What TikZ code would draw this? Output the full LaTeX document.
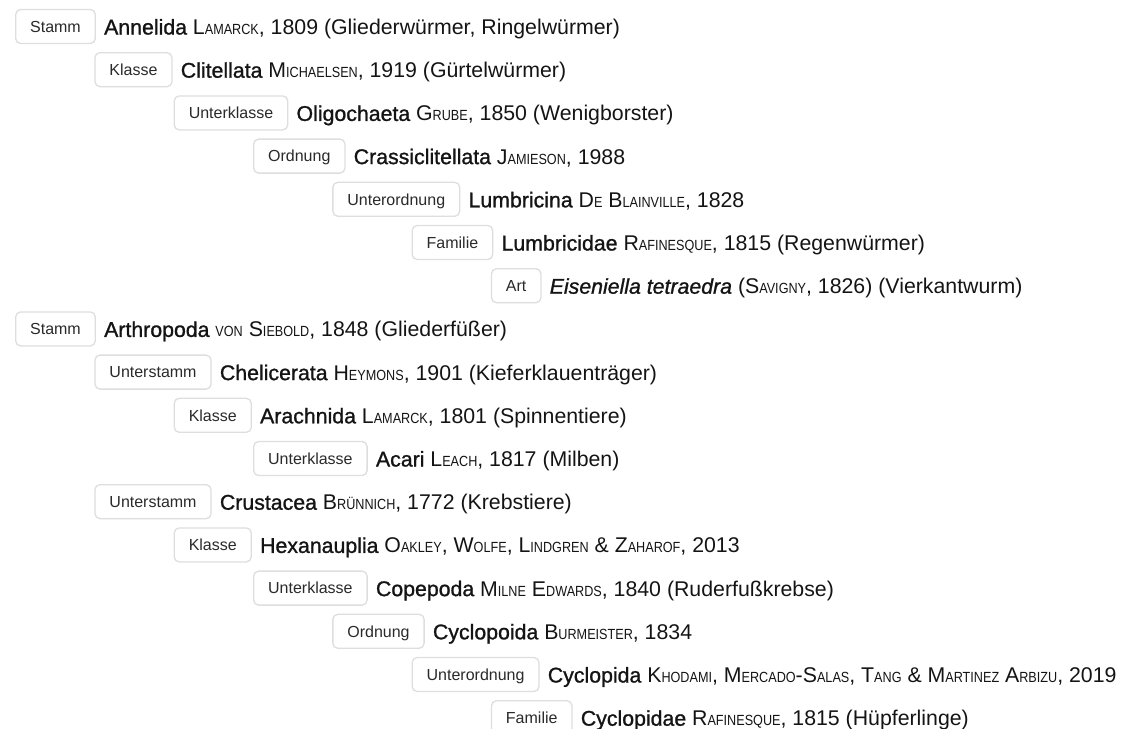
\documentclass[tikz,border=0pt]{standalone}
\usepackage{fontspec}
\setmainfont{Liberation Sans}
\newfontfamily\medfont{Liberation Sans}[FakeBold=1.1, ItalicFeatures={FakeBold=1.1}]
\newfontfamily\scfont{Liberation Sans}[FakeStretch=0.86]
\usetikzlibrary{calc}
\definecolor{boxgray}{HTML}{DEDEDE}
\definecolor{labelgray}{HTML}{2A2A2A}
\definecolor{txt}{HTML}{141414}
\newcommand\smc[1]{{\scfont\fontsize{14.7pt}{14.7pt}\selectfont #1}}
\newcommand\tx[1]{{\medfont #1}}
\tikzset{
  rank/.style={draw=boxgray, line width=1.3pt, rounded corners=5pt, fill=white,
    minimum height=34pt, inner xsep=14.5pt, inner ysep=0pt, text height=11.5pt,
    text depth=0pt, font=\fontsize{16pt}{16pt}\selectfont, text=labelgray, anchor=west},
  taxon/.style={anchor=base west, inner sep=0pt, font=\fontsize{21.3pt}{24pt}\selectfont, text=txt},
}
\begin{document}
\begin{tikzpicture}[x=1pt,y=-1pt]
\useasboundingbox (0,0) rectangle (1121,728);
% Annelida
\node[rank] (r1) at (15,26.5) {Stamm};
\node[taxon] (t1) at ($(r1.east)+(8,8)$) {\tx{Annelida} L\smc{AMARCK}, 1809 (Gliederwürmer, Ringelwürmer)};
\node[rank] (r2) at (94.3,69.7) {Klasse};
\node[taxon] (t2) at ($(r2.east)+(8,8)$) {\tx{Clitellata} M\smc{ICHAELSEN}, 1919 (Gürtelwürmer)};
\node[rank] (r3) at (173.6,112.9) {Unterklasse};
\node[taxon] (t3) at ($(r3.east)+(8,8)$) {\tx{Oligochaeta} G\smc{RUBE}, 1850 (Wenigborster)};
\node[rank] (r4) at (253,156.1) {Ordnung};
\node[taxon] (t4) at ($(r4.east)+(8,8)$) {\tx{Crassiclitellata} J\smc{AMIESON}, 1988};
\node[rank] (r5) at (332.2,199.3) {Unterordnung};
\node[taxon] (t5) at ($(r5.east)+(8,8)$) {\tx{Lumbricina} D\smc{E} B\smc{LAINVILLE}, 1828};
\node[rank] (r6) at (411.5,242.5) {Familie};
\node[taxon] (t6) at ($(r6.east)+(8,8)$) {\tx{Lumbricidae} R\smc{AFINESQUE}, 1815 (Regenwürmer)};
\node[rank] (r7) at (490.8,285.7) {Art};
\node[taxon] (t7) at ($(r7.east)+(8,8)$) {\tx{\itshape Eiseniella tetraedra} (S\smc{AVIGNY}, 1826) (Vierkantwurm)};
% Arthropoda
\node[rank] (r8) at (15,328.9) {Stamm};
\node[taxon] (t8) at ($(r8.east)+(8,8)$) {\tx{Arthropoda} \smc{VON} S\smc{IEBOLD}, 1848 (Gliederfüßer)};
\node[rank] (r9) at (94.3,372.1) {Unterstamm};
\node[taxon] (t9) at ($(r9.east)+(8,8)$) {\tx{Chelicerata} H\smc{EYMONS}, 1901 (Kieferklauenträger)};
\node[rank] (r10) at (173.6,415.3) {Klasse};
\node[taxon] (t10) at ($(r10.east)+(8,8)$) {\tx{Arachnida} L\smc{AMARCK}, 1801 (Spinnentiere)};
\node[rank] (r11) at (253,458.5) {Unterklasse};
\node[taxon] (t11) at ($(r11.east)+(8,8)$) {\tx{Acari} L\smc{EACH}, 1817 (Milben)};
\node[rank] (r12) at (94.3,501.7) {Unterstamm};
\node[taxon] (t12) at ($(r12.east)+(8,8)$) {\tx{Crustacea} B\smc{RÜNNICH}, 1772 (Krebstiere)};
\node[rank] (r13) at (173.6,544.9) {Klasse};
\node[taxon] (t13) at ($(r13.east)+(8,8)$) {\tx{Hexanauplia} O\smc{AKLEY}, W\smc{OLFE}, L\smc{INDGREN} \& Z\smc{AHAROF}, 2013};
\node[rank] (r14) at (253,588.1) {Unterklasse};
\node[taxon] (t14) at ($(r14.east)+(8,8)$) {\tx{Copepoda} M\smc{ILNE} E\smc{DWARDS}, 1840 (Ruderfußkrebse)};
\node[rank] (r15) at (332.2,631.3) {Ordnung};
\node[taxon] (t15) at ($(r15.east)+(8,8)$) {\tx{Cyclopoida} B\smc{URMEISTER}, 1834};
\node[rank] (r16) at (411.5,674.5) {Unterordnung};
\node[taxon] (t16) at ($(r16.east)+(8,8)$) {\tx{Cyclopida} K\smc{HODAMI}, M\smc{ERCADO}-S\smc{ALAS}, T\smc{ANG} \& M\smc{ARTINEZ} A\smc{RBIZU}, 2019};
\node[rank] (r17) at (490.8,717.7) {Familie};
\node[taxon] (t17) at ($(r17.east)+(8,8)$) {\tx{Cyclopidae} R\smc{AFINESQUE}, 1815 (Hüpferlinge)};
\end{tikzpicture}
\end{document}
